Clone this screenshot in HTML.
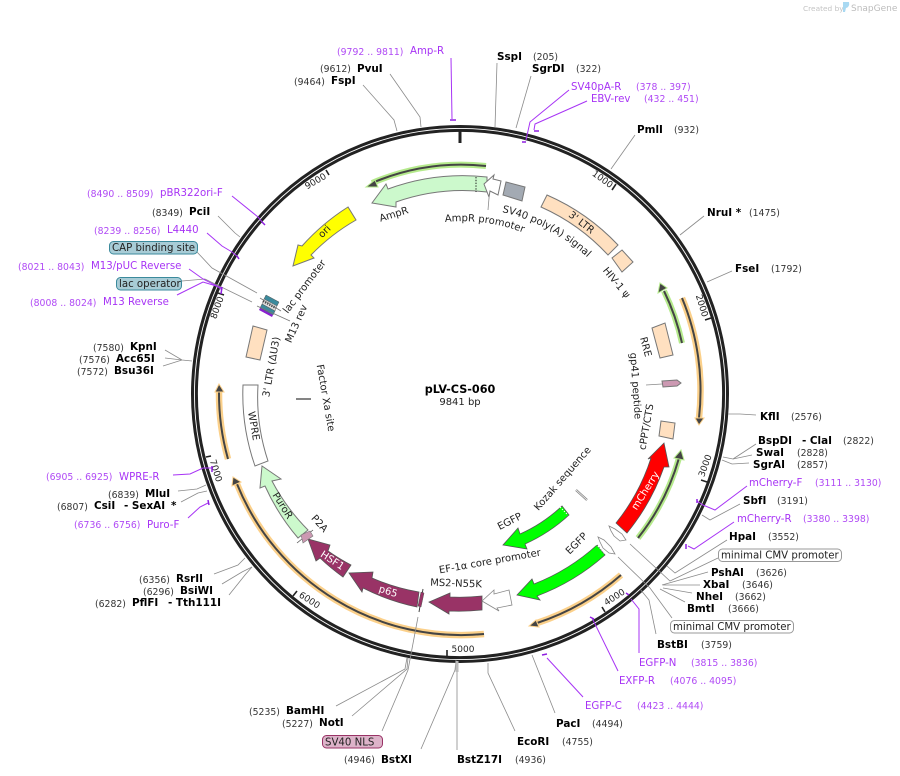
<!DOCTYPE html>
<html><head><meta charset="utf-8"><title>pLV-CS-060</title>
<style>
html,body{margin:0;padding:0;background:#fff}
svg{display:block}
text{font-family:"DejaVu Sans","Liberation Sans",sans-serif;fill:#222;font-size:10px;white-space:pre}
.b{font-weight:bold;font-size:10.4px;fill:#000}
.n{font-size:9.3px;fill:#333}
.p{font-size:10.2px;fill:#a733f5}
.q{font-size:9.3px;fill:#b04af5}
.f{font-size:10px;fill:#222}
.w{font-size:10px;fill:#fff}
.t{font-size:9px;fill:#222}
.e polyline,.e line{stroke:#8a8a8a;stroke-width:.8;fill:none}
.r polyline,.r line{stroke:#a733f5;stroke-width:1;fill:none}
</style></head><body>
<svg width="900" height="776" viewBox="0 0 900 776" xmlns="http://www.w3.org/2000/svg">
<rect width="900" height="776" fill="#fff"/>
<text x="803" y="11" style="font-size:7.4px;fill:#c4c4c4">Created by</text>
<path d="M843,2 L849,2 Q850,7 846,8 L845,12 L843,12 Z" fill="#a9d9f2"/>
<text x="851" y="11" style="font-size:9px;fill:#bcbcbc">SnapGene</text>

<!-- backbone -->
<circle cx="460" cy="394" r="267.5" fill="none" stroke="#222" stroke-width="3"/>
<circle cx="460" cy="394" r="263.6" fill="none" stroke="#222" stroke-width="3"/>
<line x1="460" y1="130" x2="460" y2="143" stroke="#222" stroke-width="3"/>
<g stroke="#222" stroke-width="1.6">
<line x1="616" y1="184" x2="612" y2="190"/>
<line x1="711" y1="318" x2="705" y2="320"/>
<line x1="707" y1="482" x2="701" y2="480"/>
<line x1="605" y1="612" x2="602" y2="607"/>
<line x1="447" y1="656" x2="447" y2="650"/>
<line x1="293" y1="596" x2="297" y2="591"/>
<line x1="206" y1="457" x2="211" y2="456"/>
<line x1="218" y1="293" x2="224" y2="295"/>
<line x1="326" y1="170" x2="329" y2="175"/>
</g>
<g text-anchor="middle" dominant-baseline="central">
<text class="t" transform="translate(602,180) rotate(36)">1000</text>
<text class="t" transform="translate(701,306) rotate(73)">2000</text>
<text class="t" transform="translate(706,466) rotate(-70)">3000</text>
<text class="t" transform="translate(615,598) rotate(-33)">4000</text>
<text class="t" transform="translate(463,650)">5000</text>
<text class="t" transform="translate(309,601) rotate(33)">6000</text>
<text class="t" transform="translate(215,471) rotate(73)">7000</text>
<text class="t" transform="translate(218,308) rotate(-70)">8000</text>
<text class="t" transform="translate(316,182) rotate(-30)">9000</text>
</g>

<!-- oriented bands -->
<g fill="none" stroke-linecap="butt">
<path d="M486,166 A229 229 0 0 0 372,183" stroke="#b5ea8c" stroke-width="6"/>
<path d="M486,166 A229 229 0 0 0 372,183" stroke="#444" stroke-width="2"/>
<path d="M682,343 A229 229 0 0 0 664,291" stroke="#b5ea8c" stroke-width="6"/>
<path d="M682,343 A229 229 0 0 0 664,291" stroke="#444" stroke-width="2"/>
<path d="M638,538 A229 229 0 0 0 679,458" stroke="#b5ea8c" stroke-width="6"/>
<path d="M638,538 A229 229 0 0 0 679,458" stroke="#444" stroke-width="2"/>
<path d="M682,298 A242 242 0 0 1 699,418" stroke="#fbd08a" stroke-width="6.5"/>
<path d="M682,298 A242 242 0 0 1 699,418" stroke="#444" stroke-width="2"/>
<path d="M621,575 A242 242 0 0 1 537,623" stroke="#fbd08a" stroke-width="6.5"/>
<path d="M621,575 A242 242 0 0 1 537,623" stroke="#444" stroke-width="2"/>
<path d="M484,634 A242 242 0 0 1 237,484" stroke="#fbd08a" stroke-width="6.5"/>
<path d="M484,634 A242 242 0 0 1 237,484" stroke="#444" stroke-width="2"/>
<path d="M228,459 A241 241 0 0 1 219,392" stroke="#fbd08a" stroke-width="6.5"/>
<path d="M228,459 A241 241 0 0 1 219,392" stroke="#444" stroke-width="2"/>
</g>
<g stroke-width="1">
<polygon points="366,187 375,180 378,187" fill="#444" stroke="#b5ea8c"/>
<polygon points="660,283 658,293 667,288" fill="#444" stroke="#b5ea8c"/>
<polygon points="681,450 674,458 684,460" fill="#444" stroke="#b5ea8c"/>
<polygon points="699,425 695,418 704,418" fill="#444" stroke="#fbd08a"/>
<polygon points="529,626 536,620 539,627" fill="#444" stroke="#fbd08a"/>
<polygon points="233,477 232,486 241,482" fill="#444" stroke="#fbd08a"/>
<polygon points="219,384 215,392 224,392" fill="#444" stroke="#fbd08a"/>
</g>

<!-- features -->
<g stroke="#777" stroke-width="1">
<path d="M487,177 A217 217 0 0 0 388,189 L386,184 L372,203 L396,207 L396,202 A202 202 0 0 1 487,192 Z" fill="#ccf9cc"/>
<path d="M484,184 L494,175 L493,179 L501,181 L498,195 L490,191 L489,197 Z" fill="#fff"/>
<polygon points="506,182 525,187 522,201 503,195" fill="#a3aab3"/>
<path d="M547,195 A217 217 0 0 1 618,245 L608,255 A204 204 0 0 0 541,207 Z" fill="#ffe0c0"/>
<polygon points="622,250 633,262 622,272 612,258" fill="#ffe0c0"/>
<polygon points="652,328 665,323 673,355 660,358" fill="#ffe0c0"/>
<polygon points="662,381 677,380 681,383 677,386 663,387" fill="#cc99b2"/>
<polygon points="661,421 675,423 673,439 659,436" fill="#ffe0c0"/>
<path d="M348,207 A218 218 0 0 0 302,246 L298,245 L293,266 L314,258 L311,255 A203 203 0 0 1 356,220 Z" fill="#ff0"/>
<polygon points="253,326 267,330 260,360 246,357" fill="#ffe0c0"/>
<path d="M243,385 L258,385 A202 202 0 0 0 268,461 L255,466 A217 217 0 0 1 243,385 Z" fill="#fff"/>
<path d="M308,530 A204 204 0 0 1 272,481 L281,479 L262,466 L260,488 L265,486 A217 217 0 0 0 298,538 Z" fill="#ccf9cc"/>
</g>
<g stroke="#555" stroke-width=".8">
<path d="M627,533 A217 217 0 0 0 664,467 L669,467 L664,443 L648,459 L651,458 A202 202 0 0 1 616,523 Z" fill="#f00"/>
<path d="M569,515 A163 163 0 0 1 525,544 L527,549 L503,545 L518,528 L520,534 A151 151 0 0 0 562,506 Z" fill="#0f0"/>
<path d="M605,555 A217 217 0 0 1 537,596 L540,600 L517,595 L532,579 L534,584 A204 204 0 0 0 597,545 Z" fill="#0f0"/>
<path d="M482,596 A202 202 0 0 1 450,597 L450,593 L429,602 L449,614 L449,611 A217 217 0 0 0 482,610 Z" fill="#993366"/>
<path d="M419,592 A202 202 0 0 1 372,578 L373,572 L349,573 L362,592 L363,588 A217 217 0 0 0 417,607 Z" fill="#993366"/>
<path d="M351,565 A202 202 0 0 1 328,551 L330,545 L308,539 L316,561 L320,558 A217 217 0 0 0 343,577 Z" fill="#993366"/>
</g>
<g stroke="#888" stroke-width=".8" fill="#fff">
<polygon points="482,601 494,590 494,594 509,590 512,605 497,608 499,611"/>
<polygon points="609,526 615,529 622,534 626,540 620,541 614,536 611,531"/>
<polygon points="598,537 604,540 611,547 615,554 609,553 603,548 600,542"/>
</g>
<line x1="476" y1="177" x2="476" y2="192" stroke="#222" stroke-width="1" stroke-dasharray="1.4 1.4"/>
<line x1="558" y1="505" x2="568" y2="515" stroke="#fff" stroke-width="1" stroke-dasharray="1.4 1.4"/>
<line x1="596" y1="544" x2="605" y2="554" stroke="#fff" stroke-width="1" stroke-dasharray="1.4 1.4"/>
<!-- small sites -->
<line x1="423" y1="589" x2="419" y2="612" stroke="#333" stroke-width=".9"/>
<polygon points="421,592 424,593 421,607 418,606" fill="#993366" stroke="#555" stroke-width=".5"/>
<line x1="297" y1="543" x2="313" y2="530" stroke="#555" stroke-width=".8"/>
<polygon points="301,535 310,531 313,536 303,543" fill="#cc99b2" stroke="#777" stroke-width=".6"/>
<line x1="576" y1="490" x2="587" y2="500" stroke="#888" stroke-width="2.2"/>
<line x1="576" y1="490" x2="587" y2="500" stroke="#fff" stroke-width=".6"/>
<line x1="296" y1="399" x2="311" y2="399" stroke="#777" stroke-width="1.8"/>
<!-- lac region -->
<polygon points="266,295 279,302 277,306 264,299" fill="#3b8a9c" stroke="#555" stroke-width=".5"/>
<polygon points="264,299 277,306 275,311 262,304" fill="#ddd" stroke="#666" stroke-width=".5"/>
<line x1="263" y1="301" x2="276" y2="308" stroke="#444" stroke-width="2.4" stroke-dasharray="1.2 1.2"/>
<polygon points="262,304 275,311 273,315 260,308" fill="#3b8a9c" stroke="#555" stroke-width=".5"/>
<polygon points="260,308 273,315 272,317 259,310" fill="#8a20d0"/>
<line x1="257" y1="306" x2="290" y2="321" stroke="#777" stroke-width=".8"/>
<line x1="260" y1="298" x2="281" y2="311" stroke="#777" stroke-width=".8"/>

<!-- enzyme leaders -->
<g class="e">
<polyline points="390,74 420,117 421,127"/>
<polyline points="363,85 394,120 397,131"/>
<polyline points="218,216 235,233 240,237"/>
<polyline points="197,252 212,268 257,293"/>
<polyline points="182,281 205,279 252,302"/>
<polyline points="165,350 182,360 192,361"/>
<polyline points="165,358 182,360"/>
<polyline points="163,366 182,360"/>
<polyline points="178,491 197,489 206,485"/>
<polyline points="181,502 198,493 207,491"/>
<polyline points="214,574 238,565 245,558"/>
<polyline points="222,584 242,572 252,567"/>
<polyline points="229,595 245,575 252,567"/>
<polyline points="336,706 405,669 407,658"/>
<polyline points="352,716 407,669 408,658"/>
<polyline points="382,731 408,670 418,617"/>
<polyline points="421,749 455,670 456,660"/>
<polyline points="457,750 457,661"/>
<line x1="457" y1="661" x2="457" y2="672" style="stroke-width:3;stroke:#bbb"/>
<polyline points="515,731 488,673 488,663"/>
<polyline points="555,713 532,655"/>
<polyline points="656,634 649,600 640,589"/>
<polyline points="672,618 650,588 618,557"/>
<polyline points="685,602 660,589"/>
<polyline points="692,593 663,588"/>
<polyline points="700,585 663,585"/>
<polyline points="708,572 662,585"/>
<polyline points="630,544 670,581 718,558"/>
<polyline points="727,540 675,573 667,566"/>
<polyline points="740,504 710,520 702,515"/>
<polyline points="749,463 732,464 722,460"/>
<polyline points="752,455 733,459 723,457"/>
<polyline points="756,444 733,459"/>
<polyline points="756,415 740,414 728,414"/>
<polyline points="732,271 707,282"/>
<polyline points="704,216 680,235"/>
<polyline points="635,135 611,169"/>
<polyline points="531,76 516,128"/>
<polyline points="497,63 495,127"/>
<polyline points="489,198 488,210"/>
<polyline points="646,385 662,384"/>
</g>
<!-- primer leaders -->
<g class="r">
<polyline points="451,58 452,119"/>
<polyline points="232,196 258,217 263,223"/>
<polyline points="207,233 222,246 232,252 238,257"/>
<polyline points="189,269 203,279 217,286 222,290"/>
<polyline points="177,295 203,282 213,285 222,288"/>
<polyline points="569,90 530,122 526,140"/>
<polyline points="587,101 535,124 534,130"/>
<polyline points="173,475 190,474 203,468 212,468"/>
<polyline points="188,518 200,507 208,503"/>
<polyline points="747,486 715,510 703,505 697,501"/>
<polyline points="734,522 694,549 688,546"/>
<polyline points="639,653 639,609 631,599"/>
<polyline points="618,671 596,626 592,618"/>
<polyline points="583,697 547,658"/>
</g>
<g stroke="#8f1fe0" stroke-width="1.5">
<line x1="450" y1="120" x2="456" y2="120"/>
<line x1="262" y1="222" x2="265" y2="225"/>
<line x1="237" y1="256" x2="239" y2="259"/>
<line x1="222" y1="287" x2="221" y2="294"/>
<line x1="522" y1="142" x2="526" y2="142"/>
<line x1="534" y1="131" x2="539" y2="131"/>
<line x1="212" y1="466" x2="212" y2="472"/>
<line x1="208" y1="500" x2="209" y2="505"/>
<line x1="697" y1="499" x2="697" y2="503"/>
<line x1="686" y1="544" x2="686" y2="549"/>
<line x1="626" y1="593" x2="629" y2="595"/>
<line x1="590" y1="617" x2="594" y2="619"/>
<line x1="542" y1="655" x2="547" y2="654"/>
</g>

<!-- feature labels -->
<defs>
<path id="arcA" d="M445,222 A172 172 0 0 1 540,240"/>
<path id="arcB" d="M502,212 A187 187 0 0 1 603,274"/>
</defs>
<text class="f"><textPath href="#arcA">AmpR promoter</textPath></text>
<text class="f"><textPath href="#arcB">SV40 poly(A) signal</textPath></text>
<g text-anchor="middle" dominant-baseline="central">
<text class="f" transform="translate(394,215) rotate(-17)">AmpR</text>
<text class="f" transform="translate(581,223) rotate(38)">3' LTR</text>
<text class="f" transform="translate(616,283) rotate(50)">HIV-1 ψ</text>
<text class="f" transform="translate(645,347) rotate(75)">RRE</text>
<text class="f" transform="translate(635,386) rotate(86)">gp41 peptide</text>
<text class="f" transform="translate(647,427) rotate(-80)">cPPT/CTS</text>
<text class="w" transform="translate(646,491) rotate(-58)">mCherry</text>
<text class="f" transform="translate(563,479) rotate(-49)">Kozak sequence</text>
<text class="f" transform="translate(510,522) rotate(-27)">EGFP</text>
<text class="f" transform="translate(577,544) rotate(-45)">EGFP</text>
<text class="f" transform="translate(490,562) rotate(-10)">EF-1α core promoter</text>
<text class="f" transform="translate(456,584) rotate(2)">MS2-N55K</text>
<text class="w" transform="translate(388,592) rotate(17)">p65</text>
<text class="w" transform="translate(332,561) rotate(33)">HSF1</text>
<text class="f" transform="translate(319,524) rotate(48)">P2A</text>
<text class="f" transform="translate(282,506) rotate(58)">PuroR</text>
<text class="f" transform="translate(253,426) rotate(80)">WPRE</text>
<text class="f" transform="translate(272,367) rotate(-80)">3' LTR (ΔU3)</text>
<text class="f" transform="translate(305,287) rotate(-53)">lac promoter</text>
<text class="f" transform="translate(297,324) rotate(-66)">M13 rev</text>
<text class="f" transform="translate(325,232) rotate(-45)">ori</text>
<text class="f" transform="translate(325,398) rotate(80)">Factor Xa site</text>
</g>

<!-- center -->
<text x="460" y="393" text-anchor="middle" style="font-size:11.2px;font-weight:bold;fill:#000">pLV-CS-060</text>
<text x="460" y="405" text-anchor="middle" style="font-size:10px">9841 bp</text>

<!-- boxes -->
<rect x="109.5" y="241.5" width="88" height="12.5" rx="4" fill="#a8ccd6" stroke="#3b8a9c"/>
<text x="112" y="251" class="f" style="font-size:10.2px">CAP binding site</text>
<rect x="116.5" y="277.5" width="65" height="12.5" rx="4" fill="#a8ccd6" stroke="#3b8a9c"/>
<text x="119" y="287" class="f" style="font-size:10.2px">lac operator</text>
<rect x="322.5" y="735.5" width="60" height="12.5" rx="4" fill="#ddb3c9" stroke="#993366"/>
<text x="325" y="745.5" class="f" style="font-size:10.2px">SV40 NLS</text>
<rect x="718.5" y="549" width="123" height="12.5" rx="4" fill="#fff" stroke="#999"/>
<text x="721" y="558.5" class="f" style="font-size:10.2px">minimal CMV promoter</text>
<rect x="670.5" y="620.5" width="123" height="12.5" rx="4" fill="#fff" stroke="#999"/>
<text x="673" y="630" class="f" style="font-size:10.2px">minimal CMV promoter</text>

<!-- labels left/top -->
<text class="q" x="337" y="55">(9792 .. 9811)</text><text class="p" x="410" y="54">Amp-R</text>
<text class="n" x="320" y="72">(9612)</text><text class="b" x="357" y="72">PvuI</text>
<text class="n" x="294" y="85">(9464)</text><text class="b" x="331" y="84">FspI</text>
<text class="q" x="87" y="197">(8490 .. 8509)</text><text class="p" x="160" y="196">pBR322ori-F</text>
<text class="n" x="152" y="216">(8349)</text><text class="b" x="189" y="215">PciI</text>
<text class="q" x="94" y="234">(8239 .. 8256)</text><text class="p" x="167" y="233">L4440</text>
<text class="q" x="18" y="270">(8021 .. 8043)</text><text class="p" x="91" y="269">M13/pUC Reverse</text>
<text class="q" x="30" y="306">(8008 .. 8024)</text><text class="p" x="103" y="305">M13 Reverse</text>
<text class="n" x="93" y="351">(7580)</text><text class="b" x="130" y="350">KpnI</text>
<text class="n" x="79" y="363">(7576)</text><text class="b" x="116" y="362">Acc65I</text>
<text class="n" x="77" y="375">(7572)</text><text class="b" x="114" y="374">Bsu36I</text>
<text class="q" x="46" y="480">(6905 .. 6925)</text><text class="p" x="119" y="480">WPRE-R</text>
<text class="n" x="108" y="498">(6839)</text><text class="b" x="145" y="497">MluI</text>
<text class="n" x="57" y="510">(6807)</text><text class="b" x="94" y="509">CsiI</text><text class="b" x="124" y="509">- SexAI</text><text class="b" x="171" y="509">*</text>
<text class="q" x="74" y="528">(6736 .. 6756)</text><text class="p" x="147" y="528">Puro-F</text>
<text class="n" x="139" y="583">(6356)</text><text class="b" x="176" y="582">RsrII</text>
<text class="n" x="143" y="595">(6296)</text><text class="b" x="180" y="594">BsiWI</text>
<text class="n" x="95" y="607">(6282)</text><text class="b" x="132" y="606">PflFI</text><text class="b" x="168" y="606">- Tth111I</text>
<text class="n" x="249" y="715">(5235)</text><text class="b" x="286" y="714">BamHI</text>
<text class="n" x="282" y="727">(5227)</text><text class="b" x="319" y="726">NotI</text>
<text class="n" x="344" y="763">(4946)</text><text class="b" x="381" y="763">BstXI</text>

<!-- labels right -->
<text class="b" x="497" y="60">SspI</text><text class="n" x="533" y="60">(205)</text>
<text class="b" x="532" y="72">SgrDI</text><text class="n" x="576" y="72">(322)</text>
<text class="p" x="571" y="90">SV40pA-R</text><text class="q" x="636" y="90">(378 .. 397)</text>
<text class="p" x="591" y="102">EBV-rev</text><text class="q" x="644" y="102">(432 .. 451)</text>
<text class="b" x="637" y="133">PmlI</text><text class="n" x="674" y="133">(932)</text>
<text class="b" x="707" y="216">NruI *</text><text class="n" x="749" y="216">(1475)</text>
<text class="b" x="735" y="272">FseI</text><text class="n" x="771" y="272">(1792)</text>
<text class="b" x="760" y="420">KflI</text><text class="n" x="791" y="420">(2576)</text>
<text class="b" x="758" y="444">BspDI</text><text class="b" x="802" y="444">- ClaI</text><text class="n" x="843" y="444">(2822)</text>
<text class="b" x="756" y="456">SwaI</text><text class="n" x="797" y="456">(2828)</text>
<text class="b" x="753" y="468">SgrAI</text><text class="n" x="797" y="468">(2857)</text>
<text class="p" x="749" y="486">mCherry-F</text><text class="q" x="815" y="486">(3111 .. 3130)</text>
<text class="b" x="743" y="504">SbfI</text><text class="n" x="777" y="504">(3191)</text>
<text class="p" x="737" y="522">mCherry-R</text><text class="q" x="803" y="522">(3380 .. 3398)</text>
<text class="b" x="729" y="540">HpaI</text><text class="n" x="768" y="540">(3552)</text>
<text class="b" x="711" y="576">PshAI</text><text class="n" x="756" y="576">(3626)</text>
<text class="b" x="703" y="588">XbaI</text><text class="n" x="742" y="588">(3646)</text>
<text class="b" x="696" y="600">NheI</text><text class="n" x="735" y="600">(3662)</text>
<text class="b" x="687" y="612">BmtI</text><text class="n" x="728" y="612">(3666)</text>
<text class="b" x="657" y="648">BstBI</text><text class="n" x="701" y="648">(3759)</text>
<text class="p" x="639" y="666">EGFP-N</text><text class="q" x="691" y="666">(3815 .. 3836)</text>
<text class="p" x="619" y="684">EXFP-R</text><text class="q" x="670" y="684">(4076 .. 4095)</text>
<text class="p" x="585" y="709">EGFP-C</text><text class="q" x="637" y="709">(4423 .. 4444)</text>
<text class="b" x="556" y="727">PacI</text><text class="n" x="592" y="727">(4494)</text>
<text class="b" x="517" y="745">EcoRI</text><text class="n" x="562" y="745">(4755)</text>
<text class="b" x="457" y="763">BstZ17I</text><text class="n" x="515" y="763">(4936)</text>
</svg>
</body></html>
